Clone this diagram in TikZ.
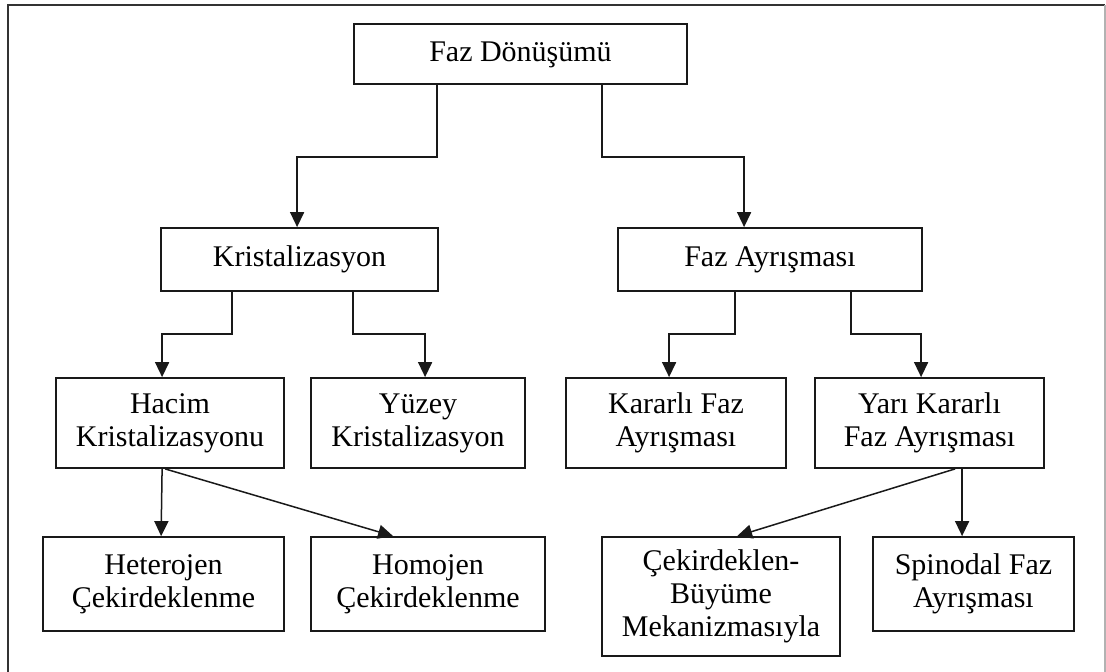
\documentclass[tikz,border=0pt]{standalone}
\usepackage{fontspec}
\setmainfont{Liberation Serif}
\usetikzlibrary{arrows.meta,calc}
\newcommand{\ta}{\rule{0pt}{24pt}}
\newcommand{\tz}{\rule[-10pt]{0pt}{0pt}}
\begin{document}
\begin{tikzpicture}[x=1pt,y=-1pt,
  box/.style={draw=black!90, line width=1.8pt, inner sep=0pt, align=center,
    font=\fontsize{30}{33}\selectfont, text=black},
  arr/.style={draw=black!90, line width=1.5pt, -{Triangle[width=14pt,length=15pt]}},
  frameline/.style={line width=2pt, draw=black!80}]
\useasboundingbox (0,0) rectangle (1106,672);
% frame
\draw[frameline] (8,672) -- (8,5) -- (1105,5);
\draw[line width=1.2pt, draw=black!30] (1105,5) -- (1105,672);
% nodes
\node[box, minimum width=333pt, minimum height=60pt] (top) at (520.5,54) {\ta Faz Dönüşümü\tz};
\node[box, minimum width=277pt, minimum height=63pt] (kris) at (299.5,259.5) {\ta Kristalizasyon\tz};
\node[box, minimum width=304pt, minimum height=63pt] (fazay) at (770,259.5) {\ta Faz Ayrışması\tz};
\node[box, minimum width=228pt, minimum height=90pt] (hacim) at (170,423) {\ta Hacim\\Kristalizasyonu\tz};
\node[box, minimum width=214pt, minimum height=90pt] (yuzey) at (418,423) {\ta Yüzey\\Kristalizasyon\tz};
\node[box, minimum width=220pt, minimum height=90pt] (karar) at (676,423) {\ta Kararlı Faz\\Ayrışması\tz};
\node[box, minimum width=229pt, minimum height=90pt] (yari) at (929.5,423) {\ta Yarı Kararlı\\Faz Ayrışması\tz};
\node[box, minimum width=241pt, minimum height=94pt] (hetero) at (163.5,584) {\ta Heterojen\\Çekirdeklenme\tz};
\node[box, minimum width=234pt, minimum height=94pt] (homo) at (428,584) {\ta Homojen\\Çekirdeklenme\tz};
\node[box, minimum width=238pt, minimum height=119pt] (cek) at (721,596.5) {\ta Çekirdeklen-\\Büyüme\\Mekanizmasıyla\tz};
\node[box, minimum width=201pt, minimum height=94pt] (spin) at (973.5,584) {\ta Spinodal Faz\\Ayrışması\tz};
% connection points
\coordinate (t1) at ($(top.south west)+(84,0)$);
\coordinate (t2) at ($(top.south west)+(249,0)$);
\coordinate (k1) at ($(kris.north west)+(137,0)$);
\coordinate (f1) at ($(fazay.north west)+(127,0)$);
\coordinate (k2) at ($(kris.south west)+(72,0)$);
\coordinate (k3) at ($(kris.south west)+(193,0)$);
\coordinate (f2) at ($(fazay.south west)+(118,0)$);
\coordinate (f3) at ($(fazay.south west)+(234,0)$);
\coordinate (h1) at ($(hacim.north west)+(107,0)$);
\coordinate (y1) at ($(yuzey.north west)+(115,0)$);
\coordinate (ka1) at ($(karar.north west)+(104,0)$);
\coordinate (ya1) at ($(yari.north west)+(107,0)$);
\coordinate (h2) at ($(hacim.south west)+(107,0)$);
\coordinate (h3) at ($(hacim.south west)+(110,0)$);
\coordinate (he1) at ($(hetero.north west)+(119,0)$);
\coordinate (ho1) at ($(homo.north west)+(83,0)$);
\coordinate (ya2) at ($(yari.south west)+(148,0)$);
\coordinate (ya3) at ($(yari.south west)+(141,0)$);
\coordinate (sp1) at ($(spin.north west)+(90,0)$);
\coordinate (ce1) at ($(cek.north west)+(136,0)$);
% connectors
\draw[arr] (t1) -- ++(0,72) -| (k1);
\draw[arr] (t2) -- ++(0,72) -| (f1);
\draw[arr] (k2) -- ++(0,42) -| (h1);
\draw[arr] (k3) -- ++(0,42) -| (y1);
\draw[arr] (f2) -- ++(0,42) -| (ka1);
\draw[arr] (f3) -- ++(0,42) -| (ya1);
\draw[arr] (h2) -- (he1);
\draw[arr] (h3) -- (ho1);
\draw[arr] (ya2) -- (sp1);
\draw[arr] (ya3) -- (ce1);
\end{tikzpicture}
\end{document}
